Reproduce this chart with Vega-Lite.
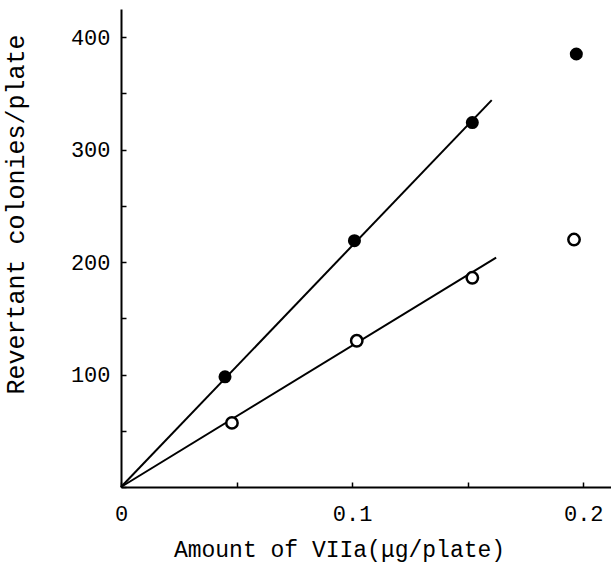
{
  "$schema": "https://vega.github.io/schema/vega-lite/v6.json",
  "width": 490,
  "height": 478,
  "autosize": {"type": "none"},
  "padding": {"left": 121, "top": 9, "right": 0, "bottom": 83},
  "background": "white",
  "config": {
    "view": {"stroke": null},
    "font": "Liberation Mono",
    "axis": {
      "domainColor": "black",
      "domainWidth": 2,
      "tickColor": "black",
      "tickWidth": 1.5,
      "tickSize": -5,
      "grid": false,
      "labelFont": "Liberation Mono",
      "labelFontSize": 22,
      "labelColor": "black",
      "titleFont": "Liberation Mono",
      "titleFontWeight": "normal",
      "titleColor": "black"
    }
  },
  "datasets": {
    "points": [
      {"amount": 0.045, "colonies": 98, "series": "filled"},
      {"amount": 0.101, "colonies": 219, "series": "filled"},
      {"amount": 0.152, "colonies": 324, "series": "filled"},
      {"amount": 0.197, "colonies": 385, "series": "filled"},
      {"amount": 0.048, "colonies": 57, "series": "open"},
      {"amount": 0.102, "colonies": 130, "series": "open"},
      {"amount": 0.152, "colonies": 186, "series": "open"},
      {"amount": 0.196, "colonies": 220, "series": "open"}
    ],
    "lines": [
      {"amount": 0, "colonies": 0, "series": "filled"},
      {"amount": 0.1604, "colonies": 344, "series": "filled"},
      {"amount": 0, "colonies": 0, "series": "open"},
      {"amount": 0.1623, "colonies": 204, "series": "open"}
    ]
  },
  "layer": [
    {
      "data": {"name": "lines"},
      "mark": {"type": "line", "color": "black", "strokeWidth": 2},
      "encoding": {
        "x": {
          "field": "amount", "type": "quantitative",
          "scale": {"domain": [0, 0.212], "nice": false, "zero": true},
          "axis": {
            "title": "Amount of VIIa(μg/plate)",
            "titleFontSize": 23,
            "titleX": 218,
            "titleY": 69,
            "titleAlign": "center",
            "titleBaseline": "alphabetic",
            "values": [0, 0.05, 0.1, 0.15, 0.2],
            "labelExpr": "datum.value == 0 ? '0' : ((abs(datum.value - 0.1) < 1e-9 || abs(datum.value - 0.2) < 1e-9) ? format(datum.value, '.1f') : '')",
            "labelPadding": 21,
            "labelFlush": false,
            "labelOverlap": false
          }
        },
        "y": {
          "field": "colonies", "type": "quantitative",
          "scale": {"domain": [0, 425], "nice": false, "zero": true},
          "axis": {
            "title": "Revertant colonies/plate",
            "titleFontSize": 25,
            "titleAngle": -90,
            "titleX": -98,
            "titleY": 205,
            "titleAlign": "center",
            "titleBaseline": "alphabetic",
            "values": [0, 50, 100, 150, 200, 250, 300, 350, 400],
            "labelExpr": "datum.value > 0 && datum.value % 100 == 0 ? datum.label : ''",
            "labelPadding": 16,
            "labelOverlap": false
          }
        },
        "detail": {"field": "series"}
      }
    },
    {
      "data": {"name": "points"},
      "transform": [{"filter": "datum.series == 'filled'"}],
      "mark": {"type": "point", "shape": "circle", "filled": true, "color": "black", "opacity": 1, "size": 170},
      "encoding": {
        "x": {"field": "amount", "type": "quantitative"},
        "y": {"field": "colonies", "type": "quantitative"}
      }
    },
    {
      "data": {"name": "points"},
      "transform": [{"filter": "datum.series == 'open'"}],
      "mark": {"type": "point", "shape": "circle", "filled": true, "fill": "white", "stroke": "black", "strokeWidth": 2.5, "opacity": 1, "size": 130},
      "encoding": {
        "x": {"field": "amount", "type": "quantitative"},
        "y": {"field": "colonies", "type": "quantitative"}
      }
    }
  ]
}
